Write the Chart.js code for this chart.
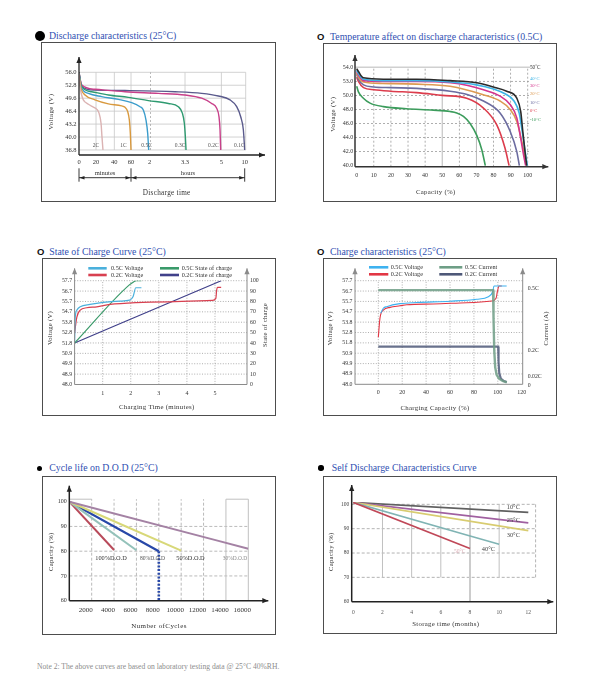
<!DOCTYPE html>
<html>
<head>
<meta charset="utf-8">
<script src="https://cdn.jsdelivr.net/npm/chart.js@4.4.1/dist/chart.umd.min.js"></script>
<style>
  html, body { margin: 0; padding: 0; background: #fff; }
  body { position: relative; width: 598px; height: 700px; overflow: hidden; font-family: "Liberation Serif", "Times New Roman", serif; }
  .box { position: absolute; border: 1px solid #4d4d4d; box-sizing: border-box; }
  canvas { position: absolute; }
  .ttl { position: absolute; color: #2f4fb2; font-size: 9.8px; line-height: 10px; white-space: nowrap; }
  .dot { position: absolute; background: #000; border-radius: 50%; }
  .ring { position: absolute; font: bold 9.5px "Liberation Sans", Arial, sans-serif; line-height: 10px; color: #111; }
  .note { position: absolute; left: 37px; top: 663px; font-size: 7.6px; line-height: 8px; color: #8c8c8c; white-space: nowrap; }
</style>
</head>
<body>
<div class="dot" style="left:35px;top:30.7px;width:10px;height:10px"></div>
<div class="ttl" style="left:49px;top:31px">Discharge characteristics (25°C)</div>
<div class="ring" style="left:317px;top:31.8px">O</div>
<div class="ttl" style="left:330px;top:31.5px">Temperature affect on discharge characteristics (0.5C)</div>
<div class="ring" style="left:37px;top:246.8px">O</div>
<div class="ttl" style="left:49.3px;top:246.7px">State of Charge Curve (25°C)</div>
<div class="ring" style="left:317px;top:246.8px">O</div>
<div class="ttl" style="left:330px;top:246.7px">Charge characteristics (25°C)</div>
<div class="dot" style="left:36.8px;top:465.6px;width:5.4px;height:5.4px"></div>
<div class="ttl" style="left:49.3px;top:463.2px">Cycle life on D.O.D (25°C)</div>
<div class="dot" style="left:318.3px;top:465.3px;width:5.4px;height:5.4px"></div>
<div class="ttl" style="left:331.7px;top:463.2px">Self Discharge Characteristics Curve</div>

<div class="box" style="left:41px;top:42px;width:235px;height:160px"></div>
<canvas id="c1" width="235" height="160" style="left:41px;top:42px"></canvas>
<div class="box" style="left:323px;top:43px;width:234px;height:159px"></div>
<canvas id="c2" width="234" height="159" style="left:323px;top:43px"></canvas>
<div class="box" style="left:42px;top:258px;width:234px;height:158px"></div>
<canvas id="c3" width="234" height="158" style="left:42px;top:258px"></canvas>
<div class="box" style="left:323px;top:258px;width:234px;height:158px"></div>
<canvas id="c4" width="234" height="158" style="left:323px;top:258px"></canvas>
<div class="box" style="left:42px;top:476px;width:234px;height:159px"></div>
<canvas id="c5" width="234" height="159" style="left:42px;top:476px"></canvas>
<div class="box" style="left:323px;top:476px;width:234px;height:158px"></div>
<canvas id="c6" width="234" height="158" style="left:323px;top:476px"></canvas>

<div class="note">Note 2: The above curves are based on laboratory testing data @ 25°C 40%RH.</div>

<script>
const SERIF = '"Liberation Serif", "Times New Roman", serif';

// ---- 1. Discharge characteristics (25°C): minutes / volts ----
const rate2C_t  = [0, 1.2, 3.1, 5.1, 11, 16.9, 20.7, 23.3, 25.5, 26.5, 27.6];
const rate2C_v  = [55.8, 52.5, 50.4, 49.2, 48.1, 47.4, 46.9, 45.9, 43.4, 40.1, 36.8];
const rate1C_t  = [0, 2.4, 7.1, 18.8, 33.5, 48.8, 52.8, 56, 58, 59.2, 60];
const rate1C_v  = [55.3, 52.0, 50.4, 49.2, 48.2, 47.7, 47.35, 46.3, 44.2, 40.9, 36.8];
const rate05C_t = [0, 2.4, 11, 26.2, 44.8, 62.1, 88.9, 99.6, 108.2, 113.6, 116.8];
const rate05C_v = [55.75, 52.5, 50.8, 50.0, 49.3, 48.5, 47.5, 46.7, 44.2, 40.9, 36.8];
const rate03C_t = [0, 3.1, 14.9, 33.5, 56.8, 115.7, 161.2, 183.3, 192.1, 196.5, 198.9, 200.8];
const rate03C_v = [56, 52.5, 51.2, 50.4, 49.8, 49.0, 48.3, 47.5, 45.9, 43.4, 40.1, 36.8];
const rate02C_t = [0, 3.1, 18.8, 52.8, 139.1, 198, 244.8, 272.8, 286.9, 293.4, 296.3, 298.1];
const rate02C_v = [56, 52.9, 51.8, 51.2, 50.8, 50.4, 49.6, 48.3, 47.1, 45.0, 41.75, 36.8];
const rate01C_t = [0, 3.1, 18.8, 52.8, 175.9, 244.8, 291.6, 411.4, 497.1, 548.6, 582.9, 600];
const rate01C_v = [56, 52.5, 51.6, 51.5, 51.2, 50.8, 50.15, 49.2, 47.5, 45.0, 41.75, 36.8];
const rateLabels = ['2C', '1C', '0.5C', '0.3C', '0.2C', '0.1C'];
const rateLabelAt = [20, 50.8, 110, 187, 277.5, 531];
const timeBreaks = [0, 20, 40, 60, 120, 198, 300, 600];
const timeTickText = ['0', '20', '40', '60', '2', '3.3', '5', '10'];
const dischargeVTicks = [36.8, 40.0, 43.2, 46.4, 49.6, 52.8, 56.0];
const dischargeVText = ['36.8', '40.0', '43.2', '46.4', '49.6', '52.8', '56.0'];

// ---- 2. Temperature affect on discharge (0.5C): capacity % / volts ----
const tempLabels = ['50˚C', '40°C', '30°C', '20°C', '10°C', '0°C', '-10°C'];
const temp50_c = [0, 1, 3.9, 15.6, 35.1, 54.6, 70.2, 79.9, 87.7, 93.6, 95.9, 97.1, 98.4, 99.4];
const temp50_v = [53.8, 53.4, 52.5, 52.3, 52.3, 52.1, 51.8, 51.2, 50.6, 49.6, 47.7, 44.9, 42.0, 40.0];
const temp40_c = [0, 1, 4, 15, 35, 55, 70, 80, 87, 92, 95, 97, 98.5, 99.8];
const temp40_v = [53.6, 53.1, 52.3, 52.1, 52.1, 51.9, 51.5, 50.9, 50.2, 49.2, 47.5, 44.5, 42.0, 40.0];
const temp30_c = [0, 1, 4, 15, 35, 55, 65, 74.1, 83.8, 89.7, 93.6, 95.9, 97.5, 98.8];
const temp30_v = [53.4, 52.9, 52.1, 52.0, 52.0, 51.8, 51.4, 50.8, 49.9, 48.7, 46.8, 43.9, 41.6, 40.0];
const temp20_c = [0, 1, 4, 15, 35, 54.6, 74, 83.8, 89.7, 93.6, 96.5, 98.4, 99.4];
const temp20_v = [53.2, 52.6, 51.9, 51.7, 51.6, 51.3, 50.1, 49.2, 48.0, 46.3, 43.5, 41.1, 40.0];
const temp10_c = [0, 1, 4, 10, 20, 35, 54.6, 65, 74.1, 83.8, 89.7, 93.6, 95.1];
const temp10_v = [53.0, 52.3, 51.5, 51.2, 51.1, 51.0, 50.6, 50.1, 49.2, 47.5, 44.9, 42.0, 40.0];
const temp0_c  = [0, 1, 4, 10, 20, 35, 50, 64.3, 74.1, 81.9, 86.7, 89.1];
const temp0_v  = [52.6, 52.0, 51.1, 50.8, 50.6, 50.4, 50.0, 49.6, 48.2, 45.8, 42.5, 40.0];
const tempM10_c = [0, 1, 3.9, 7.8, 15.6, 29, 44.8, 54.6, 58.5, 62.4, 66.3, 70.2, 73.1, 75.2];
const tempM10_v = [51.3, 50.5, 49.6, 48.9, 48.4, 48.1, 47.9, 47.7, 47.5, 47.0, 46.0, 44.3, 42.3, 40.0];
const capTicks = [0, 10, 20, 30, 40, 50, 60, 70, 80, 90, 100];
const tempVTicks = [40, 42, 44, 46, 48, 50, 52, 54];
const tempVText = ['40.0', '42.0', '44.0', '46.0', '48.0', '50.0', '53.0', '54.0'];

// ---- 3. State of charge curve: minutes / volts and % ----
const soc05V_t = [0, 0.02, 0.08, 0.2, 0.55, 1.02, 1.61, 1.96, 2.08, 2.18, 2.38];
const soc05V_v = [52.0, 54.2, 54.95, 55.26, 55.48, 55.67, 55.79, 55.88, 56.2, 57.04, 57.04];
const soc02V_t = [0, 0.08, 0.2, 0.43, 0.79, 1.26, 2.2, 3.38, 4.91, 5.03, 5.06, 5.09, 5.22];
const soc02V_v = [52.8, 54.3, 54.95, 55.17, 55.26, 55.48, 55.66, 55.73, 55.86, 56.05, 56.83, 57.08, 57.08];
const soc05S_t = [0, 1.95, 2.1, 2.2, 2.38];
const soc05S_p = [40, 96, 98.8, 100, 100];
const soc02S_t = [0, 5.22];
const soc02S_p = [40, 100];
const voltTickVals = [48.0, 48.97, 49.94, 50.91, 51.88, 52.85, 53.82, 54.79, 55.76, 56.73, 57.7];
const voltTickText = ['48.0', '48.9', '49.9', '50.9', '51.8', '52.8', '53.8', '54.7', '55.7', '56.7', '57.7'];
const socTicks = [0, 10, 20, 30, 40, 50, 60, 70, 80, 90, 100];
const minuteTicks = [1, 2, 3, 4, 5];

// ---- 4. Charge characteristics: capacity % / volts and C-rate ----
const chg05V_x = [2.0, 4.2, 7.0, 18.2, 32.1, 60, 82.3, 92.1, 95.7, 96.8, 107.4];
const chg05V_v = [54.65, 55.12, 55.27, 55.55, 55.66, 55.78, 55.96, 56.2, 56.67, 57.2, 57.2];
const chg02V_x = [0, 1.4, 4.2, 9.8, 18.2, 23.8, 46, 74, 94.9, 98.5, 99.6, 101, 103.3];
const chg02V_v = [52.4, 54.2, 54.95, 55.2, 55.35, 55.45, 55.52, 55.64, 55.8, 56.05, 56.67, 57.2, 57.2];
const chg05I_x = [0, 96, 96.4, 97, 97.8, 99, 101, 104, 107.5];
const chg05I_c = [0.5, 0.5, 0.35, 0.18, 0.09, 0.05, 0.03, 0.018, 0.01];
const chg02I_x = [0, 100.3, 100.6, 101.2, 102.5, 105, 107.5];
const chg02I_c = [0.2, 0.2, 0.12, 0.06, 0.03, 0.017, 0.012];
const chgCapTicks = [0, 20, 40, 60, 80, 100, 120];
const currentTicks = [0, 0.02, 0.2, 0.5];
const currentText = ['0', '0.02C', '0.2C', '0.5C'];

// ---- 5. Cycle life on D.O.D: cycles / capacity % ----
const dod100_n = [0, 4000];   const dod100_c = [100, 80.5];
const dod90_n  = [0, 6000];   const dod90_c  = [100, 80.4];
const dod80_n  = [0, 8000];   const dod80_c  = [100, 80];
const dod50_n  = [0, 10000];  const dod50_c  = [100, 80.2];
const dod30_n  = [0, 16000];  const dod30_c  = [100, 81];
const dod80End_n = [8000, 8000]; const dod80End_c = [80, 60];
const dodLabels = ['100%D.O.D', '80%D.O.D', '50%D.O.D', '30%D.O.D'];
const cycleTicks = [2000, 4000, 6000, 8000, 10000, 12000, 14000, 16000];
const pctTicks = [60, 70, 80, 90, 100];

// ---- 6. Self discharge: months / capacity % ----
const sd10_m = [0, 12]; const sd10_c = [100.8, 96.7];
const sd25_m = [0, 12]; const sd25_c = [100.8, 92.4];
const sd30_m = [0, 12]; const sd30_c = [100.8, 89.2];
const sd40_m = [0, 10]; const sd40_c = [100.8, 83.6];
const sd50_m = [0, 8];  const sd50_c = [100.8, 81.9];
const sdLabels = ['10°C', '25°C', '30°C', '40°C', '50°C'];
const monthTicks = [0, 2, 4, 6, 8, 10, 12];

// the discharge time axis is broken (minutes, then hours), so it is drawn in its own units
const timeAxisPos = [0, 51, 106, 156, 212, 318, 427, 497];
function timePos(m) {
  for (let i = 1; i < timeBreaks.length; i++) {
    if (m <= timeBreaks[i] || i === timeBreaks.length - 1) {
      const f = (m - timeBreaks[i - 1]) / (timeBreaks[i] - timeBreaks[i - 1]);
      return timeAxisPos[i - 1] + f * (timeAxisPos[i] - timeAxisPos[i - 1]);
    }
  }
}

// ---------- helpers ----------
function ds(xs, ys, color, w, more) {
  return Object.assign({
    data: xs.map((x, i) => ({ x: x, y: ys[i] })),
    borderColor: color, borderWidth: w || 1.3, pointRadius: 0, fill: false,
    cubicInterpolationMode: 'monotone'
  }, more || {});
}

function ax(pos, min, max, vals, text, size, fit, pad, tickMore) {
  return {
    type: 'linear', position: pos, min: min, max: max,
    grid: { display: false, drawTicks: false }, border: { display: false },
    afterBuildTicks: s => { s.ticks = vals.map(v => ({ value: v })); },
    afterFit: s => { if (pos === 'left' || pos === 'right') s.width = fit; else s.height = fit; },
    ticks: Object.assign({
      autoSkip: false, maxRotation: 0, minRotation: 0, padding: pad, color: '#333',
      font: { family: SERIF, size: size }, callback: (v, i) => text[i]
    }, tickMore || {})
  };
}

function seg(ctx, x1, y1, x2, y2, color, w, dash) {
  ctx.save();
  ctx.beginPath();
  ctx.strokeStyle = color;
  ctx.lineWidth = w || 1;
  ctx.setLineDash(dash || []);
  ctx.moveTo(x1, y1);
  ctx.lineTo(x2, y2);
  ctx.stroke();
  ctx.restore();
}

function head(ctx, x, y, dir, color, len, half) {
  ctx.save();
  ctx.fillStyle = color;
  ctx.beginPath();
  ctx.moveTo(x, y);
  if (dir === 'up') { ctx.lineTo(x - half, y + len); ctx.lineTo(x + half, y + len); }
  else if (dir === 'right') { ctx.lineTo(x - len, y - half); ctx.lineTo(x - len, y + half); }
  else { ctx.lineTo(x + len, y - half); ctx.lineTo(x + len, y + half); }
  ctx.closePath();
  ctx.fill();
  ctx.restore();
}

function txt(ctx, s, x, y, o) {
  o = o || {};
  ctx.save();
  ctx.font = (o.size || 6.5) + 'px ' + SERIF;
  ctx.fillStyle = o.color || '#333';
  ctx.textAlign = o.align || 'center';
  ctx.textBaseline = 'middle';
  if (o.ls) ctx.letterSpacing = o.ls + 'px';
  ctx.translate(x, y);
  if (o.rot) ctx.rotate(o.rot);
  ctx.fillText(s, 0, 0);
  ctx.restore();
}

function axes(c, o) {
  const a = c.chartArea, ctx = c.ctx;
  seg(ctx, a.left, a.bottom, a.right + (o.xExt || 0), a.bottom, o.color, o.w);
  if (o.xExt) head(ctx, a.right + o.xExt, a.bottom, 'right', o.color, 6, 2.6);
  seg(ctx, a.left, a.bottom, a.left, a.top - o.yExt, o.color, o.w);
  head(ctx, a.left, a.top - o.yExt, 'up', o.color, 6, 2.6);
  if (o.right) {
    seg(ctx, a.right, a.bottom, a.right, a.top - o.yExt, o.color, o.w);
    head(ctx, a.right, a.top - o.yExt, 'up', o.color, 6, 2.6);
  }
}

function vline(c, xv, y1, y2, color, w, dash) {
  const X = c.scales.x.getPixelForValue(xv), Y = c.scales.y;
  seg(c.ctx, X, Y.getPixelForValue(y1), X, Y.getPixelForValue(y2), color, w, dash);
}
function hline(c, yv, x1, x2, color, w, dash) {
  const Y = c.scales.y.getPixelForValue(yv), X = c.scales.x;
  seg(c.ctx, X.getPixelForValue(x1), Y, X.getPixelForValue(x2), Y, color, w, dash);
}
function label(c, s, xv, yv, o) {
  txt(c.ctx, s, c.scales.x.getPixelForValue(xv), c.scales.y.getPixelForValue(yv), o);
}
function swatch(ctx, x1, x2, y, color, s, tx) {
  seg(ctx, x1, y, x2, y, color, 2.6);
  txt(ctx, s, tx, y, { size: 6.2, align: 'left', color: '#333' });
}

function makeChart(id, pad, scales, datasets, under, over) {
  return new Chart(document.getElementById(id), {
    type: 'line',
    data: { datasets: datasets },
    options: {
      responsive: false, animation: false, events: [],
      layout: { padding: pad },
      plugins: { legend: { display: false }, tooltip: { enabled: false } },
      scales: scales
    },
    plugins: [{
      id: 'deco',
      beforeDatasetsDraw: c => { if (under) under(c, c.ctx); },
      afterDatasetsDraw: c => { if (over) over(c, c.ctx); }
    }]
  });
}

// ---------- chart 1 ----------
makeChart('c1', { left: 14, right: 30.3, top: 30.3, bottom: 33 },
  {
    x: ax('bottom', 0, 500, timeBreaks.map(timePos), timeTickText, 6.5, 14, 3),
    y: ax('left', 35.56, 56, dischargeVTicks, dischargeVText, 6.5, 24, 2.5)
  },
  [
    ds(rate2C_t.map(timePos), rate2C_v, '#dbb3b3', 1.4),
    ds(rate1C_t.map(timePos), rate1C_v, '#d8993e', 1.4),
    ds(rate05C_t.map(timePos), rate05C_v, '#3a9ccb', 1.4),
    ds(rate03C_t.map(timePos), rate03C_v, '#2e9a70', 1.4),
    ds(rate02C_t.map(timePos), rate02C_v, '#c8408a', 1.4),
    ds(rate01C_t.map(timePos), rate01C_v, '#5a5a8c', 1.4)
  ],
  c => {
    dischargeVTicks.forEach(v => hline(c, v, 0, 500, '#c6c6c6', 0.8));
    [20, 40, 60, 198, 300].forEach(m => vline(c, timePos(m), 36.8, 56, '#c6c6c6', 0.8));
    vline(c, 500, 36.8, 56, '#c6c6c6', 0.8);
    vline(c, timePos(122), 36.8, 56, '#a8a8a8', 0.8, [2, 2]);
  },
  (c, ctx) => {
    axes(c, { color: '#222', w: 1.3, xExt: 19.3, yExt: 15.3 });
    rateLabels.forEach((s, i) => label(c, s, timePos(rateLabelAt[i]), 37.9, { size: 5.5, color: '#555' }));
    txt(ctx, 'Voltage (V)', 10, 69.7, { size: 7, rot: -Math.PI / 2, ls: 0.3 });
    txt(ctx, 'Discharge time', 125.7, 151.3, { size: 7.2, ls: 0.3 });
    const xs = c.scales.x;
    const x0 = xs.getPixelForValue(timePos(0)), x1 = xs.getPixelForValue(timePos(60)), x2 = xs.getPixelForValue(timePos(600));
    [x0, x1, x2].forEach(x => seg(ctx, x, 126.3, x, 139.7, '#222', 0.9));
    seg(ctx, x0, 135.7, x1, 135.7, '#222', 0.9);
    seg(ctx, x1, 135.7, x2, 135.7, '#222', 0.9);
    head(ctx, x0 + 0.5, 135.7, 'left', '#222', 5, 1.8);
    head(ctx, x1 - 0.5, 135.7, 'right', '#222', 5, 1.8);
    head(ctx, x1 + 0.5, 135.7, 'left', '#222', 5, 1.8);
    head(ctx, x2 - 0.5, 135.7, 'right', '#222', 5, 1.8);
    txt(ctx, 'minutes', (x0 + x1) / 2, 131.3, { size: 6.5 });
    txt(ctx, 'hours', (x1 + x2) / 2, 131.3, { size: 6.5 });
  });

// ---------- chart 2 ----------
const tempColors = ['#2b2b2b', '#3cb4e6', '#d4338c', '#dc9a52', '#6c6ca0', '#dc3c4c', '#3c9c5c'];
makeChart('c2', { left: 8, right: 26.7, top: 24.3, bottom: 21.3 },
  {
    x: ax('bottom', -1, 101.5, capTicks, capTicks.map(String), 6, 14, 5.4),
    y: ax('left', 39.85, 54, tempVTicks, tempVText, 6, 24, 1.8)
  },
  [
    ds(temp50_c, temp50_v, tempColors[0], 1.6),
    ds(temp40_c, temp40_v, tempColors[1], 1.6),
    ds(temp30_c, temp30_v, tempColors[2], 1.6),
    ds(temp20_c, temp20_v, tempColors[3], 1.6),
    ds(temp10_c, temp10_v, tempColors[4], 1.6),
    ds(temp0_c, temp0_v, tempColors[5], 1.6),
    ds(tempM10_c, tempM10_v, tempColors[6], 1.6)
  ],
  c => {
    [42, 44, 46, 48, 50, 52].forEach(v => hline(c, v, -1, 101.5, '#9a9a9a', 0.8, [2, 2]));
    hline(c, 54, -1, 101.5, '#d0d0d0', 1.6);
    [10, 20, 30, 40, 60, 80, 90, 100].forEach(v => vline(c, v, 39.85, 54, '#9a9a9a', 0.8, [2, 2]));
    [50, 70].forEach(v => vline(c, v, 39.85, 54, '#b0b0b0', 0.9));
  },
  (c, ctx) => {
    axes(c, { color: '#333', w: 1.5, xExt: 18, yExt: 12.3 });
    const ly = [24.7, 35.3, 42.7, 50.3, 59.3, 67.7, 76.3];
    tempLabels.forEach((s, i) => txt(ctx, s, 207, ly[i], { size: i ? 4.6 : 5.2, color: tempColors[i], align: 'left' }));
    txt(ctx, 'Voltage (V)', 10.3, 71.3, { size: 6.8, rot: -Math.PI / 2, ls: 0.3 });
    txt(ctx, 'Capacity (%)', 112.7, 149.7, { size: 6.8, ls: 0.3 });
  });

// ---------- chart 3 ----------
const socColors = ['#4ab0dc', '#d84050', '#3a9a6a', '#40408a'];
makeChart('c3', { left: 8.6, right: 9, top: 22.7, bottom: 17.5 },
  {
    x: ax('bottom', 0, 6.14, minuteTicks, minuteTicks.map(String), 6, 14, 5.2),
    y: ax('left', 48, 57.7, voltTickVals, voltTickText, 5.8, 24, 2.5),
    y2: ax('right', 0, 100, socTicks, socTicks.map(String), 5.8, 20, 3)
  },
  [
    ds(soc05V_t, soc05V_v, socColors[0], 1.2),
    ds(soc02V_t, soc02V_v, socColors[1], 1.2),
    ds(soc05S_t, soc05S_p, socColors[2], 1.2, { yAxisID: 'y2' }),
    ds(soc02S_t, soc02S_p, socColors[3], 1.2, { yAxisID: 'y2' })
  ],
  c => {
    voltTickVals.slice(1).forEach(v => hline(c, v, 0, 6.14, '#9a9a9a', 0.8, [1, 1.6]));
    minuteTicks.forEach(v => vline(c, v, 48, 57.7, '#9a9a9a', 0.8, [1, 1.6]));
  },
  (c, ctx) => {
    axes(c, { color: '#8a8a8a', w: 1, xExt: 0, yExt: 12.4, right: true });
    swatch(ctx, 46.3, 64.7, 10.3, socColors[0], '0.5C Voltage', 69);
    swatch(ctx, 46.3, 64.7, 17, socColors[1], '0.2C Voltage', 69);
    swatch(ctx, 118, 137, 10.3, socColors[2], '0.5C State of charge', 139.7);
    swatch(ctx, 118, 137, 17, socColors[3], '0.2C State of charge', 139.7);
    txt(ctx, 'Voltage (V)', 8, 70, { size: 6.6, rot: -Math.PI / 2, ls: 0.3 });
    txt(ctx, 'State of charge', 223.7, 67, { size: 6.6, rot: -Math.PI / 2, ls: 0.3 });
    txt(ctx, 'Charging Time (minutes)', 114.7, 149.7, { size: 6.8, ls: 0.3 });
  });

// ---------- chart 4 ----------
const chgColors = ['#3eb2f0', '#e23644', '#6e9e86', '#4e5878'];
makeChart('c4', { left: 8, right: 14.3, top: 22.7, bottom: 17.7 },
  {
    x: ax('bottom', -19.5, 120.8, chgCapTicks, chgCapTicks.map(String), 6, 14, 4.4),
    y: ax('left', 48, 57.7, voltTickVals, voltTickText, 5.8, 24, 2.5),
    y2: ax('right', 0, 0.5502, currentTicks, currentText, 5.8, 20, 5, { display: false })
  },
  [
    ds(chg05I_x, chg05I_c, 'rgba(110,158,134,0.85)', 2.4, { yAxisID: 'y2', cubicInterpolationMode: 'default', tension: 0 }),
    ds(chg02I_x, chg02I_c, 'rgba(78,88,120,0.85)', 2.2, { yAxisID: 'y2', cubicInterpolationMode: 'default', tension: 0 }),
    ds(chg05V_x, chg05V_v, chgColors[0], 1.1),
    ds(chg02V_x, chg02V_v, chgColors[1], 1.1)
  ],
  c => {
    voltTickVals.slice(1).forEach(v => hline(c, v, -19.5, 120.8, '#9a9a9a', 0.8, [1, 1.6]));
    [0, 20, 40, 60, 80, 100].forEach(v => vline(c, v, 48, 57.7, '#9a9a9a', 0.8, [1, 1.6]));
  },
  (c, ctx) => {
    axes(c, { color: '#8a8a8a', w: 1, xExt: 0, yExt: 12.4, right: true });
    const nudge = [1.4, -3.8, 3.4, -1.7];
    currentTicks.forEach((v, i) => txt(ctx, currentText[i], c.chartArea.right + 5,
      c.scales.y2.getPixelForValue(v) + nudge[i], { size: 5.8, align: 'left' }));
    swatch(ctx, 46, 65.3, 9.3, chgColors[0], '0.5C Voltage', 67.7);
    swatch(ctx, 46, 65.3, 16.3, chgColors[1], '0.2C Voltage', 67.7);
    swatch(ctx, 116.3, 139.3, 9.3, chgColors[2], '0.5C Current', 142);
    swatch(ctx, 116.3, 139.3, 16.3, chgColors[3], '0.2C Current', 142);
    txt(ctx, 'Voltage (V)', 7, 70.3, { size: 6.6, rot: -Math.PI / 2, ls: 0.3 });
    txt(ctx, 'Current (A)', 223.7, 70.3, { size: 6.6, rot: -Math.PI / 2, ls: 0.3 });
    txt(ctx, 'Charging Capacity (%)', 112, 150.3, { size: 6.8, ls: 0.3 });
  });

// ---------- chart 5 ----------
const dodColors = ['#b84a5a', '#94c2ba', '#2848a8', '#d8d878', '#a482a4'];
makeChart('c5', { left: 3.3, right: 27.7, top: 23.2, bottom: 20.3 },
  {
    x: ax('bottom', 0, 16000, cycleTicks, cycleTicks.map(String), 7, 14, 5.1, { labelOffset: -6 }),
    y: ax('left', 60, 101, pctTicks, pctTicks.map(String), 6, 24, 2.6)
  },
  [
    ds(dod30_n, dod30_c, dodColors[4], 2),
    ds(dod50_n, dod50_c, dodColors[3], 2),
    ds(dod90_n, dod90_c, dodColors[1], 2),
    ds(dod100_n, dod100_c, dodColors[0], 2),
    ds(dod80_n, dod80_c, dodColors[2], 2.2),
    ds(dod80End_n, dod80End_c, dodColors[2], 2.6, { borderDash: [2, 1.6] })
  ],
  c => {
    [70, 80, 90].forEach(v => hline(c, v, 0, 16000, '#a8a8a8', 0.8, [3, 2]));
    hline(c, 101, 0, 2000, '#c0c0c0', 1);
    hline(c, 101, 14000, 16000, '#c0c0c0', 1);
    [2000, 4000, 6000, 8000, 10000, 12000].forEach(v => vline(c, v, 60, 101, '#a8a8a8', 0.8, [3, 2]));
    [14000, 16000].forEach(v => vline(c, v, 60, 101, '#c0c0c0', 1));
  },
  (c, ctx) => {
    axes(c, { color: '#222', w: 1.5, xExt: 20, yExt: 13.5 });
    label(c, dodLabels[0], 3727, 77.1, { size: 6.3, color: '#333' });
    label(c, dodLabels[1], 7435, 77.1, { size: 5.6, color: '#555' });
    label(c, dodLabels[2], 10831, 77.1, { size: 6.3, color: '#333' });
    label(c, dodLabels[3], 14808, 77.1, { size: 5.4, color: '#8a8a8a' });
    txt(ctx, 'Capacity (%)', 9.7, 75.7, { size: 6.6, rot: -Math.PI / 2, ls: 0.3 });
    txt(ctx, 'Number ofCycles', 117, 149.7, { size: 7, ls: 0.4 });
  });

// ---------- chart 6 ----------
const sdColors = ['#606060', '#a060a0', '#d8cc70', '#80b4b4', '#c04858'];
makeChart('c6', { left: 4.7, right: 21.4, top: 25.9, bottom: 18.3 },
  {
    x: ax('bottom', -0.11, 12.5, monthTicks, monthTicks.map(String), 5.5, 14, 7.7, { color: '#555' }),
    y: ax('left', 60, 101, pctTicks, pctTicks.map(String), 5.5, 24, 2.4, { color: '#444' })
  },
  [
    ds(sd50_m, sd50_c, sdColors[4], 1.6),
    ds(sd40_m, sd40_c, sdColors[3], 1.6),
    ds(sd30_m, sd30_c, sdColors[2], 1.6),
    ds(sd25_m, sd25_c, sdColors[1], 1.6),
    ds(sd10_m, sd10_c, sdColors[0], 1.6)
  ],
  c => {
    [70, 80, 90, 100].forEach(v => hline(c, v, -0.11, 12.5, '#a0a0a0', 0.8, [3, 2]));
    [2, 4, 6, 10].forEach(v => vline(c, v, 70, 100, '#c0c0c0', 1));
    vline(c, 8, 60, 100, '#cccccc', 2);
    vline(c, 12.5, 70, 100, '#a0a0a0', 0.8, [3, 2]);
  },
  (c, ctx) => {
    axes(c, { color: '#222', w: 1.5, xExt: 17.7, yExt: 16.9 });
    label(c, sdLabels[0], 10.97, 98.6, { size: 6.4, color: '#444' });
    label(c, sdLabels[1], 10.97, 93.3, { size: 6.4, color: '#444' });
    label(c, sdLabels[2], 10.97, 87.1, { size: 6.4, color: '#444' });
    label(c, sdLabels[3], 9.26, 81.6, { size: 6.4, color: '#444' });
    label(c, sdLabels[4], 7.3, 80.5, { size: 5.6, color: '#dcb0b8' });
    txt(ctx, 'Capacity (%)', 8, 75.7, { size: 6.6, rot: -Math.PI / 2, ls: 0.3 });
    txt(ctx, 'Storage time (months)', 122.7, 148, { size: 6.8, ls: 0.3 });
  });
</script>
</body>
</html>
